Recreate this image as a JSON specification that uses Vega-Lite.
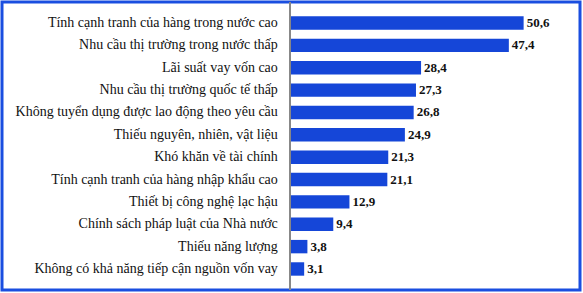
{
  "$schema": "https://vega.github.io/schema/vega-lite/v6.json",
  "width": 578,
  "height": 288,
  "autosize": {"type": "none"},
  "padding": {"left": 2, "top": 2, "right": 3, "bottom": 3},
  "background": "white",
  "config": {
    "view": {"stroke": "#1a4ee0", "strokeWidth": 3, "strokeOpacity": 1}
  },
  "data": {
    "values": [
      {"cat": "Tính cạnh tranh của hàng trong nước cao", "value": 50.6, "label": "50,6"},
      {"cat": "Nhu cầu thị trường trong nước thấp", "value": 47.4, "label": "47,4"},
      {"cat": "Lãi suất vay vốn cao", "value": 28.4, "label": "28,4"},
      {"cat": "Nhu cầu thị trường quốc tế thấp", "value": 27.3, "label": "27,3"},
      {"cat": "Không tuyển dụng được lao động theo yêu cầu", "value": 26.8, "label": "26,8"},
      {"cat": "Thiếu nguyên, nhiên, vật liệu", "value": 24.9, "label": "24,9"},
      {"cat": "Khó khăn về tài chính", "value": 21.3, "label": "21,3"},
      {"cat": "Tính cạnh tranh của hàng nhập khẩu cao", "value": 21.1, "label": "21,1"},
      {"cat": "Thiết bị công nghệ lạc hậu", "value": 12.9, "label": "12,9"},
      {"cat": "Chính sách pháp luật của Nhà nước", "value": 9.4, "label": "9,4"},
      {"cat": "Thiếu năng lượng", "value": 3.8, "label": "3,8"},
      {"cat": "Không có khả năng tiếp cận nguồn vốn vay", "value": 3.1, "label": "3,1"}
    ]
  },
  "encoding": {
    "y": {
      "field": "cat",
      "type": "nominal",
      "sort": null,
      "axis": null,
      "scale": {"paddingInner": 0.4, "paddingOuter": 0.64}
    }
  },
  "layer": [
    {
      "mark": {"type": "bar", "color": "#1546d8"},
      "encoding": {
        "x": {
          "field": "value",
          "type": "quantitative",
          "axis": null,
          "scale": {"domain": [-62.3, 62.8], "nice": false, "zero": false}
        }
      }
    },
    {
      "mark": {"type": "rule", "color": "#888888", "strokeWidth": 1},
      "encoding": {"x": {"datum": 0}, "y": null}
    },
    {
      "mark": {"type": "text", "align": "right", "baseline": "middle", "dx": -12, "fontSize": 14, "color": "#111111", "font": "Liberation Serif"},
      "encoding": {"x": {"datum": 0}, "text": {"field": "cat"}}
    },
    {
      "mark": {"type": "text", "align": "left", "baseline": "middle", "dx": 3, "fontSize": 13, "color": "#111111", "font": "Liberation Serif", "fontWeight": "bold"},
      "encoding": {"x": {"field": "value", "type": "quantitative"}, "text": {"field": "label"}}
    }
  ]
}
